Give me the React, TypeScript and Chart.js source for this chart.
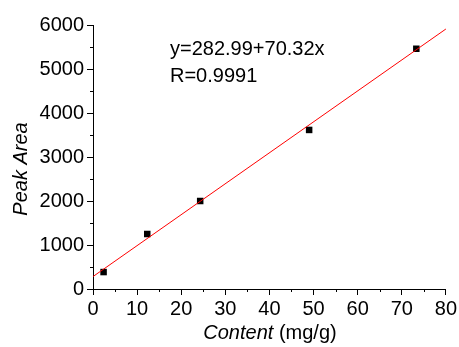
import React, { useEffect, useRef } from "react";
import { Chart, registerables } from "chart.js";

Chart.register(...registerables);

// Measured data points (Content mg/g, Peak Area)
const contentX = [2.4, 12.3, 24.3, 49.0, 73.3];
const peakAreaY = [385, 1250, 2000, 3615, 5460];

// Fit line endpoints
const fitX = [0, 80];
const fitY = [283, 5909];

const xTicks = [0, 10, 20, 30, 40, 50, 60, 70, 80];
const yTicks = [0, 1000, 2000, 3000, 4000, 5000, 6000];
const xMinor = [5, 15, 25, 35, 45, 55, 65, 75];
const yMinor = [500, 1500, 2500, 3500, 4500, 5500];

const equationLines = ["y=282.99+70.32x", "R=0.9991"];
const yTitle = "Peak Area";
const xTitleItalic = "Content";
const xTitleNormal = " (mg/g)";

const FONT = "'Liberation Sans', Arial, sans-serif";

const annotationPlugin = {
  id: "annot",
  afterDraw(chart: any) {
    const ctx = chart.ctx as CanvasRenderingContext2D;
    const xs = chart.scales.x;
    const ys = chart.scales.y;
    const area = chart.chartArea;
    ctx.save();
    // minor ticks
    ctx.strokeStyle = "#000";
    ctx.lineWidth = 1;
    ctx.beginPath();
    xMinor.forEach((v) => {
      const px = Math.round(xs.getPixelForValue(v)) + 0.5;
      ctx.moveTo(px, area.bottom);
      ctx.lineTo(px, area.bottom + 3);
    });
    yMinor.forEach((v) => {
      const py = Math.round(ys.getPixelForValue(v)) + 0.5;
      ctx.moveTo(area.left, py);
      ctx.lineTo(area.left - 3, py);
    });
    ctx.stroke();

    ctx.fillStyle = "#000";
    // equation
    ctx.font = `20px ${FONT}`;
    ctx.textAlign = "left";
    ctx.textBaseline = "alphabetic";
    ctx.fillText(equationLines[0], 170, 55);
    ctx.fillText(equationLines[1], 170, 82);

    // y title
    ctx.save();
    ctx.translate(27, 169);
    ctx.rotate(-Math.PI / 2);
    ctx.font = `italic 20px ${FONT}`;
    ctx.textAlign = "center";
    ctx.fillText(yTitle, 0, 0);
    ctx.restore();

    // x title (mixed styles)
    ctx.font = `italic 20px ${FONT}`;
    const w1 = ctx.measureText(xTitleItalic).width;
    ctx.font = `20px ${FONT}`;
    const w2 = ctx.measureText(xTitleNormal).width;
    const startX = 270 - (w1 + w2) / 2;
    ctx.textAlign = "left";
    ctx.font = `italic 20px ${FONT}`;
    ctx.fillText(xTitleItalic, startX, 339);
    ctx.font = `20px ${FONT}`;
    ctx.fillText(xTitleNormal, startX + w1, 339);
    ctx.restore();
  },
};

export default function App() {
  const ref = useRef<HTMLCanvasElement | null>(null);
  useEffect(() => {
    document.body.style.margin = "0";
    if (!ref.current) return;
    const chart = new Chart(ref.current, {
      type: "scatter",
      data: {
        datasets: [
          {
            type: "line",
            data: fitX.map((x, i) => ({ x, y: fitY[i] })),
            borderColor: "#ff0000",
            borderWidth: 1,
            pointRadius: 0,
            fill: false,
          } as any,
          {
            data: contentX.map((x, i) => ({ x, y: peakAreaY[i] })),
            pointStyle: "rect",
            pointRadius: 4.6,
            backgroundColor: "#000",
            borderColor: "#000",
            borderWidth: 0,
          },
        ],
      },
      options: {
        responsive: false,
        animation: false,
        layout: { padding: { top: 25, right: 13, left: 0, bottom: 0 } },
        plugins: { legend: { display: false }, tooltip: { enabled: false } },
        scales: {
          x: {
            type: "linear",
            min: 0,
            max: 80,
            afterBuildTicks: (s: any) => {
              s.ticks = xTicks.map((v) => ({ value: v }));
            },
            afterFit: (s: any) => {
              s.height = 58;
            },
            grid: {
              drawOnChartArea: false,
              drawTicks: true,
              tickLength: 6,
              tickColor: "#000",
            },
            border: { display: true, color: "#000", width: 1 },
            ticks: {
              color: "#000",
              padding: 2,
              maxRotation: 0,
              font: { family: FONT, size: 20 },
              callback: (v: any) => String(v),
            },
          },
          y: {
            type: "linear",
            min: 0,
            max: 6000,
            afterBuildTicks: (s: any) => {
              s.ticks = yTicks.map((v) => ({ value: v }));
            },
            afterFit: (s: any) => {
              s.width = 93;
            },
            grid: {
              drawOnChartArea: false,
              drawTicks: true,
              tickLength: 6,
              tickColor: "#000",
            },
            border: { display: true, color: "#000", width: 1 },
            ticks: {
              color: "#000",
              padding: 3,
              font: { family: FONT, size: 20 },
              callback: (v: any) => String(v),
            },
          },
        },
      },
      plugins: [annotationPlugin],
    });
    return () => chart.destroy();
  }, []);
  return (
    <div style={{ width: 459, height: 347 }}>
      <canvas ref={ref} width={459} height={347} />
    </div>
  );
}
